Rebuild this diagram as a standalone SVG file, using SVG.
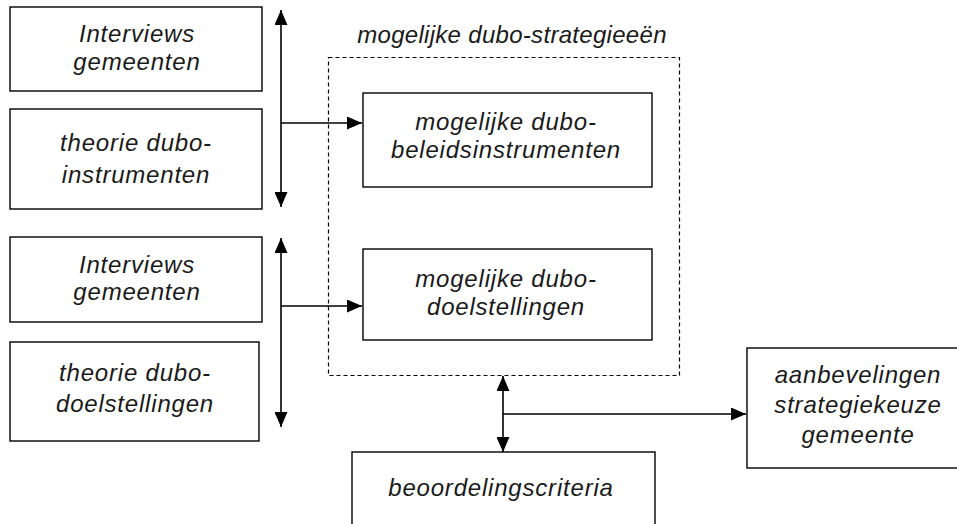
<svg xmlns="http://www.w3.org/2000/svg" width="957" height="524" viewBox="0 0 957 524">
  <style>
    .box { fill: #ffffff; stroke: #000000; stroke-width: 1.4; }
    .group { fill: none; stroke: #000000; stroke-width: 1.2; stroke-dasharray: 4 3; }
    .lbl { font-family: "Liberation Sans", Arial, sans-serif; font-style: italic; font-size: 24px; letter-spacing: 0.8px; fill: #1a1a1a; text-anchor: middle; }
    .title { letter-spacing: 0.3px; }
    .wire { fill: none; stroke: #000000; stroke-width: 1.6; }
  </style>
  <defs>
    <marker id="head" markerUnits="userSpaceOnUse" markerWidth="15" markerHeight="13" refX="15" refY="6.5" orient="auto-start-reverse">
      <path d="M0,0 L15,6.5 L0,13 z" fill="#000000"/>
    </marker>
  </defs>
  <rect width="957" height="524" fill="#ffffff"/>

  <!-- strategy container -->
  <g id="strategieen">
    <rect class="group" x="328.5" y="57.5" width="351" height="318"/>
    <text class="lbl title" x="512" y="43">mogelijke dubo-strategieeën</text>
  </g>

  <g id="interviews-1">
    <rect class="box" x="10" y="7" width="252" height="84"/>
    <text class="lbl" x="137" y="42">Interviews</text>
    <text class="lbl" x="137" y="70">gemeenten</text>
  </g>

  <g id="theorie-instrumenten">
    <rect class="box" x="10" y="109" width="252" height="100"/>
    <text class="lbl" x="136" y="151">theorie dubo-</text>
    <text class="lbl" x="136" y="183">instrumenten</text>
  </g>

  <g id="interviews-2">
    <rect class="box" x="10" y="237" width="252" height="85"/>
    <text class="lbl" x="137" y="273">Interviews</text>
    <text class="lbl" x="137" y="300">gemeenten</text>
  </g>

  <g id="theorie-doelstellingen">
    <rect class="box" x="10" y="342" width="249" height="99"/>
    <text class="lbl" x="135" y="381">theorie dubo-</text>
    <text class="lbl" x="135" y="412">doelstellingen</text>
  </g>

  <g id="beleidsinstrumenten">
    <rect class="box" x="363" y="93" width="289" height="94"/>
    <text class="lbl" x="506" y="130">mogelijke dubo-</text>
    <text class="lbl" x="506" y="158">beleidsinstrumenten</text>
  </g>

  <g id="doelstellingen">
    <rect class="box" x="363" y="249" width="289" height="91"/>
    <text class="lbl" x="506" y="287">mogelijke dubo-</text>
    <text class="lbl" x="506" y="315">doelstellingen</text>
  </g>

  <g id="beoordelingscriteria">
    <rect class="box" x="352" y="452" width="303" height="90"/>
    <text class="lbl" x="501" y="496">beoordelingscriteria</text>
  </g>

  <g id="aanbevelingen">
    <rect class="box" x="747" y="348" width="230" height="120"/>
    <text class="lbl" x="858" y="383">aanbevelingen</text>
    <text class="lbl" x="858" y="413">strategiekeuze</text>
    <text class="lbl" x="858" y="443">gemeente</text>
  </g>

  <!-- connectors -->
  <g id="connectors">
    <line class="wire" x1="281" y1="10" x2="281" y2="207" marker-start="url(#head)" marker-end="url(#head)"/>
    <line class="wire" x1="281" y1="123" x2="362" y2="123" marker-end="url(#head)"/>
    <line class="wire" x1="281" y1="238" x2="281" y2="427" marker-start="url(#head)" marker-end="url(#head)"/>
    <line class="wire" x1="281" y1="306" x2="362" y2="306" marker-end="url(#head)"/>
    <line class="wire" x1="503" y1="376" x2="503" y2="452" marker-start="url(#head)" marker-end="url(#head)"/>
    <line class="wire" x1="503" y1="414" x2="746" y2="414" marker-end="url(#head)"/>
  </g>
</svg>
